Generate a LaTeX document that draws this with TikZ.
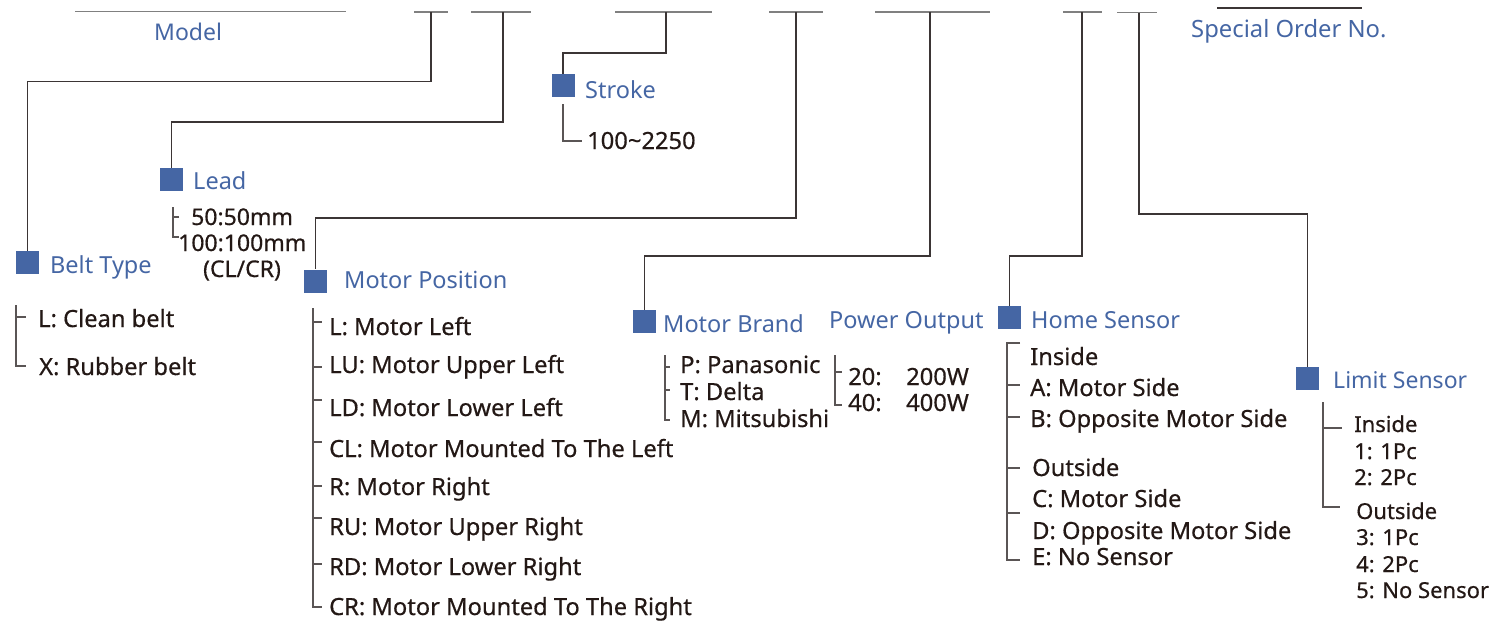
\documentclass[tikz,border=0pt]{standalone}
\usepackage{fontspec}
\setmainfont{Noto Sans}
\newfontfamily\inkfont[FakeBold=0.5]{Noto Sans}
\definecolor{hblue}{HTML}{4566A4}
\definecolor{ink}{HTML}{231815}
\definecolor{wire}{HTML}{3B3535}
\definecolor{segc}{HTML}{808080}
\definecolor{brk}{HTML}{5A5555}
\tikzset{
  sq/.style={fill=hblue, draw=none, minimum size=23pt, inner sep=0pt},
  head/.style={anchor=base west, inner sep=0pt, text=hblue, font=\fontsize{23.5}{26}\selectfont},
  item/.style={anchor=base west, inner sep=0pt, text=ink, font=\inkfont\fontsize{23.7}{26}\selectfont},
  itemsm/.style={anchor=base west, inner sep=0pt, text=ink, font=\inkfont\fontsize{22}{24}\selectfont},
  seg/.style={draw=segc, line width=1.3pt},
  wireln/.style={draw=wire, line width=1.2pt},
  brack/.style={draw=brk, line width=1.2pt}
}
\begin{document}
\begin{tikzpicture}[x=1pt,y=-1pt]
\useasboundingbox (0,0) rectangle (1496,621);
% top code segments
\draw[seg] (75,11.5) -- (346,11.5);
\draw[seg] (414,12) -- (448,12);
\draw[seg] (471,12) -- (531,12);
\draw[seg] (615,12) -- (712,12);
\draw[seg] (769,12) -- (823,12);
\draw[seg] (875,12) -- (990,12);
\draw[seg] (1063,12) -- (1102,12);
\draw[seg] (1117,12.5) -- (1157,12.5);
\draw[draw=wire, line width=1.2pt] (1217,8) -- (1362,8);
\coordinate (s2) at (431,12);
\coordinate (s3) at (503,12);
\coordinate (s4) at (666,12);
\coordinate (s5) at (796,12);
\coordinate (s6) at (930,12);
\coordinate (s7) at (1082,12);
\coordinate (s8) at (1139,12.5);
\node[head, font=\fontsize{23}{26}\selectfont] (model) at (154,40) {Model};
\node[head, font=\fontsize{23.8}{26}\selectfont] (special) at (1191,37) {Special Order No.};

% squares
\node[sq] (belt) at (27.5,262.5) {};
\node[sq] (lead) at (171.5,179.5) {};
\node[sq] (stroke) at (563,85.5) {};
\node[sq] (mpos) at (315.5,281) {};
\node[sq] (brand) at (644.5,321.5) {};
\node[sq] (home) at (1009.5,317.5) {};
\node[sq] (limit) at (1307.5,378.5) {};

% connectors
\draw[wireln] (s2) -- ++(0,69.5) -| (belt.north);
\draw[wireln] (s3) -- ++(0,110) -| (lead.north);
\draw[wireln] (s4) -- ++(0,41) -| (stroke.north);
\draw[wireln] (s5) -- ++(0,206) -| (mpos.north);
\draw[wireln] (s6) -- ++(0,244) -| (brand.north);
\draw[wireln] (s7) -- ++(0,244) -| (home.north);
\draw[wireln] (s8) -- ++(0,201.5) -| (limit.north);

% headings
\node[head] (tbelt) at (50,273) {Belt Type};
\node[head] (tlead) at (193,189) {Lead};
\node[head] (tstroke) at (585,98) {Stroke};
\node[head] (tmpos) at (344,288) {Motor Position};
\node[head] (tbrand) at (663,332) {Motor Brand};
\node[head] (tpower) at (829,328) {Power Output};
\node[head] (thome) at (1031,328) {Home Sensor};
\node[head, font=\fontsize{23}{26}\selectfont] (tlimit) at (1333,388) {Limit Sensor};

% Stroke
\draw[brack] (563,104) |- (582,141);
\node[item] (st1) at (587,149) {100\char`\~2250};

% Lead
\draw[brack] (179,217) -| (173,237) -- (179,237);
\draw[brack] (173,207) -- (173,217);
\node[item, font=\inkfont\fontsize{23}{26}\selectfont] (ld1) at (191,225) {50:50mm};
\node[item, font=\inkfont\fontsize{23}{26}\selectfont] (ld2) at (178,251) {100:100mm};
\node[anchor=base, inner sep=0pt, text=ink, font=\inkfont\fontsize{23}{26}\selectfont] (ld3) at (242,277) {(CL/CR)};

% Belt
\draw[brack] (16,305) -- (16,366) -- (26,366);
\draw[brack] (16,317) -- (26,317);
\node[item] (bt1) at (38,327) {L: Clean belt};
\node[item] (bt2) at (39,375) {X: Rubber belt};

% Motor position
\draw[brack] (313,308) -- (313,607) -- (322,607);
\foreach \yy in {322,367,400,442,486,518,564}{\draw[brack] (313,\yy) -- (322,\yy);}
\node[item] (mp1) at (329,335) {L: Motor Left};
\node[item] (mp2) at (329,373) {LU: Motor Upper Left};
\node[item] (mp3) at (329,416) {LD: Motor Lower Left};
\node[item] (mp4) at (329,457) {CL: Motor Mounted To The Left};
\node[item] (mp5) at (329,495) {R: Motor Right};
\node[item] (mp6) at (329,535) {RU: Motor Upper Right};
\node[item] (mp7) at (329,575) {RD: Motor Lower Right};
\node[item] (mp8) at (329,615) {CR: Motor Mounted To The Right};

% Motor brand
\draw[brack] (665,355) -- (665,420) -- (670,420);
\draw[brack] (665,367) -- (670,367);
\draw[brack] (665,390) -- (670,390);
\node[item] (mb1) at (680,373) {P: Panasonic};
\node[item] (mb2) at (680,400) {T: Delta};
\node[item] (mb3) at (680,427) {M: Mitsubishi};

% Power output
\draw[brack] (835,355) -- (835,405) -- (842,405);
\draw[brack] (835,372) -- (842,372);
\node[item] (po1) at (848,385) {20:};
\node[item] (po1w) at (906,385) {200W};
\node[item] (po2) at (848,411) {40:};
\node[item] (po2w) at (906,411) {400W};

% Home sensor
\draw[brack] (1020,343) -| (1007,560) -- (1020,560);
\foreach \yy in {385,417,468,513}{\draw[brack] (1007,\yy) -- (1020,\yy);}
\node[item] (hs1) at (1030,365) {Inside};
\node[item] (hs2) at (1030,396) {A: Motor Side};
\node[item] (hs3) at (1030,427) {B: Opposite Motor Side};
\node[item] (hs4) at (1032,476) {Outside};
\node[item] (hs5) at (1032,507) {C: Motor Side};
\node[item] (hs6) at (1032,539) {D: Opposite Motor Side};
\node[item] (hs7) at (1032,565) {E: No Sensor};

% Limit sensor
\draw[brack] (1323,402) -- (1323,507) -- (1340,507);
\draw[brack] (1323,428) -- (1342,428);
\node[itemsm] (ls1) at (1354,432) {Inside};
\node[itemsm] (ls2) at (1354,459) {1: 1Pc};
\node[itemsm] (ls3) at (1354,485) {2: 2Pc};
\node[itemsm] (ls4) at (1356,519) {Outside};
\node[itemsm] (ls5) at (1356,545) {3: 1Pc};
\node[itemsm] (ls6) at (1356,572) {4: 2Pc};
\node[itemsm] (ls7) at (1356,598) {5: No Sensor};
\end{tikzpicture}
\end{document}
